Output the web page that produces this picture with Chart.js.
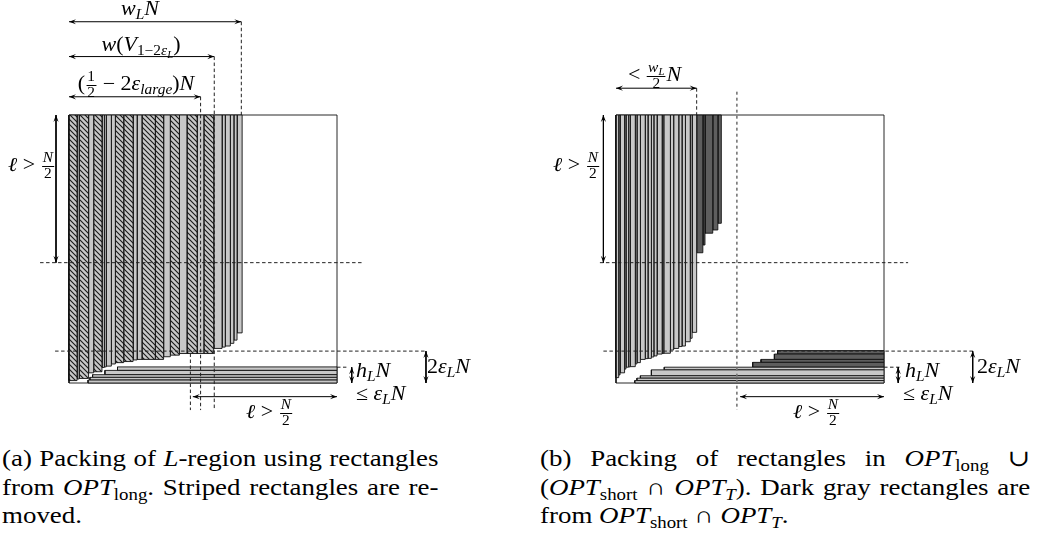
<!DOCTYPE html>
<html><head><meta charset="utf-8">
<script src="https://cdn.jsdelivr.net/npm/chart.js@4.4.1/dist/chart.umd.min.js"></script>
<style>
html,body{margin:0;padding:0;background:#fff;}
#wrap{position:relative;width:1044px;height:544px;overflow:hidden;font-family:"Liberation Serif","DejaVu Serif",serif;color:#000;}
canvas{position:absolute;top:0;}
#ca{left:0;} #cb{left:520px;}
.lbl{position:absolute;font-size:20px;line-height:1;white-space:nowrap;font-family:"Liberation Serif","DejaVu Serif",serif;transform:scaleX(1.1);transform-origin:left center;}
.c{transform:translateX(-50%) scaleX(1.1);transform-origin:center center;}
sub{font-size:0.7em;vertical-align:-0.3em;line-height:0;}
.frac{display:inline-flex;flex-direction:column;align-items:center;vertical-align:middle;font-size:0.7em;line-height:1.05;margin:0 1px;}
.frac .n{border-bottom:1px solid #000;padding:0 1px;}
.cap{position:absolute;font-size:23px;line-height:28.5px;font-family:"Liberation Serif","DejaVu Serif",serif;transform:scaleX(1.17);transform-origin:left top;}
.cap .j{text-align:justify;text-align-last:justify;}
</style></head>
<body>
<div id="wrap">
<canvas id="ca" width="520" height="430"></canvas>
<canvas id="cb" width="524" height="430"></canvas>

<!-- panel (a) labels -->
<div class="lbl c" style="left:140px;top:-2px"><i>w<sub>L</sub>N</i></div>
<div class="lbl c" style="left:141px;top:34px"><i>w</i>(<i>V</i><sub>1−2<i>ε<sub>L</sub></i></sub>)</div>
<div class="lbl c" style="left:136px;top:70px">(<span class="frac"><span class="n">1</span><span>2</span></span> − 2<i>ε<sub>large</sub></i>)<i>N</i></div>
<div class="lbl" style="left:8px;top:151px"><i>ℓ</i> &gt; <span class="frac"><span class="n"><i>N</i></span><span>2</span></span></div>
<div class="lbl" style="left:246px;top:398px"><i>ℓ</i> &gt; <span class="frac"><span class="n"><i>N</i></span><span>2</span></span></div>
<div class="lbl" style="left:356px;top:360px"><i>h<sub>L</sub>N</i></div>
<div class="lbl" style="left:356px;top:383px">≤ <i>ε<sub>L</sub>N</i></div>
<div class="lbl" style="left:427px;top:356px">2<i>ε<sub>L</sub>N</i></div>

<!-- panel (b) labels -->
<div class="lbl" style="left:628px;top:61px">&lt; <span class="frac"><span class="n"><i>w<sub>L</sub></i></span><span>2</span></span><i>N</i></div>
<div class="lbl" style="left:553px;top:151px"><i>ℓ</i> &gt; <span class="frac"><span class="n"><i>N</i></span><span>2</span></span></div>
<div class="lbl" style="left:793px;top:398px"><i>ℓ</i> &gt; <span class="frac"><span class="n"><i>N</i></span><span>2</span></span></div>
<div class="lbl" style="left:905px;top:360px"><i>h<sub>L</sub>N</i></div>
<div class="lbl" style="left:903px;top:383px">≤ <i>ε<sub>L</sub>N</i></div>
<div class="lbl" style="left:977px;top:356px">2<i>ε<sub>L</sub>N</i></div>

<div class="cap" style="left:2px;top:445px;width:373px">
<div class="j">(a) Packing of <i>L</i>-region using rectangles</div>
<div class="j">from <i>OPT</i><sub>long</sub>. Striped rectangles are re-</div>
<div>moved.</div>
</div>
<div class="cap" style="left:540px;top:445px;width:419px">
<div class="j">(b) Packing of rectangles in <i>OPT</i><sub>long</sub> ∪</div>
<div class="j">(<i>OPT</i><sub>short</sub> ∩ <i>OPT<sub>T</sub></i>). Dark gray rectangles are</div>
<div>from <i>OPT</i><sub>short</sub> ∩ <i>OPT<sub>T</sub></i>.</div>
</div>
</div>

<script>
// ---------- data (all in units of N; square is [0,1]x[0,1]) ----------
// panel (a): vertical rectangles hanging from the top edge
const aStripEdges = [0,0.030,0.038,0.073,0.092,0.123,0.132,0.139,0.158,0.173,0.204,0.239,0.254,0.272,0.322,0.353,0.378,0.412,0.440,0.478,0.503,0.540,0.571,0.583,0.602,0.615,0.627,0.646];
const aStripBottoms = [0.009,0.015,0.017,0.038,0.042,0.058,0.060,0.063,0.071,0.076,0.080,0.086,0.088,0.088,0.088,0.098,0.104,0.110,0.110,0.110,0.110,0.129,0.134,0.138,0.148,0.160,0.187];
const aStripStriped = [1,0,1,0,1,0,0,0,0,1,1,0,0,1,1,0,1,0,1,0,1,0,0,0,0,0,0];
// panel (a): horizontal rectangles ending at the right edge (bottom-up)
const aBarEdges = [0,0.011,0.021,0.031,0.047,0.060];
const aBarStarts = [0.071,0.078,0.088,0.134,0.181];
// panel (a) measures
const aWL = 0.643, aWV = 0.542, aHalfLarge = 0.491, aCut = 0.453, aEllStart = 0.462;

// panel (b): light vertical rectangles
const bStripEdges = [0,0.010,0.015,0.032,0.037,0.047,0.053,0.072,0.078,0.091,0.109,0.119,0.132,0.141,0.153,0.172,0.178,0.203,0.215,0.234,0.246,0.259,0.277,0.284,0.301];
const bStripBottoms = [0.020,0.030,0.038,0.052,0.059,0.060,0.061,0.071,0.076,0.088,0.091,0.092,0.097,0.101,0.108,0.110,0.111,0.123,0.129,0.136,0.138,0.154,0.167,0.189];
// panel (b): dark vertical rectangles (OPT_short ∩ OPT_T)
const bDarkEdges = [0.301,0.324,0.332,0.361,0.380,0.393];
const bDarkBottoms = [0.486,0.515,0.559,0.571,0.596];
// panel (b): horizontal rectangles (bottom-up)
const bBarEdges = [0,0.009,0.018,0.027,0.049,0.059,0.077,0.088,0.108,0.121];
const bBarStarts = [0.070,0.078,0.091,0.132,0.180,0.510,0.541,0.591,0.603];
const bBarDark = [0,0,0,0,0,1,1,1,1];
// panel (b) measures
const bHalfWL = 0.301, bMid = 0.451, bEllStart = 0.463;

// shared horizontal levels
const yHalf = 0.449, yTwoEps = 0.119, yHL = 0.059;

// ---------- styling ----------
const LIGHT = '#c8c8c8', DARK = '#5e5e5e';
const Y_MIN = -47/268, Y_MAX = 383/268;

function hatch(){
  const c = document.createElement('canvas'); c.width = 5; c.height = 5;
  const g = c.getContext('2d');
  g.fillStyle = LIGHT; g.fillRect(0,0,5,5);
  g.strokeStyle = '#1a1a1a'; g.lineWidth = 1.1;
  g.beginPath();
  g.moveTo(-1,-1); g.lineTo(6,6);
  g.moveTo(-1,4); g.lineTo(1,6);
  g.moveTo(4,-1); g.lineTo(6,1);
  g.stroke();
  return g.createPattern(c,'repeat');
}
const HATCH = hatch();

function rect(l,r,b,t,color,order){
  return {data:[{x:l,y:b},{x:r,y:b},{x:r,y:t},{x:l,y:t},{x:l,y:b}],
    borderColor:'#111',borderWidth:0.9,backgroundColor:color,fill:'shape',
    pointRadius:0,tension:0,order:order};
}
function seg(x1,y1,x2,y2,extra){
  return Object.assign({data:[{x:x1,y:y1},{x:x2,y:y2}],borderColor:'#222',borderWidth:1,
    borderDash:[3.5,2.5],fill:false,pointRadius:0,tension:0,order:3},extra||{});
}
function arrow(x1,y1,x2,y2){
  return seg(x1,y1,x2,y2,{borderDash:[],borderColor:'#000',borderWidth:1,arrowHeads:['start','end'],order:2});
}

const arrowPlugin = {
  id:'arrowheads',
  afterDatasetsDraw(chart){
    const ctx = chart.ctx;
    chart.data.datasets.forEach((ds,i)=>{
      if(!ds.arrowHeads) return;
      const pts = chart.getDatasetMeta(i).data;
      const head = (tip,from)=>{
        const a = Math.atan2(tip.y-from.y, tip.x-from.x);
        const L = 7, W = 2.6;
        ctx.save(); ctx.translate(tip.x,tip.y); ctx.rotate(a);
        ctx.beginPath(); ctx.moveTo(0,0); ctx.lineTo(-L,-W); ctx.lineTo(-L*0.6,0); ctx.lineTo(-L,W); ctx.closePath();
        ctx.fillStyle = '#000'; ctx.fill(); ctx.restore();
      };
      const n = pts.length;
      if(ds.arrowHeads.includes('end')) head(pts[n-1],pts[n-2]);
      if(ds.arrowHeads.includes('start')) head(pts[0],pts[1]);
    });
  }
};

function makeChart(id,xmin,xmax,datasets){
  return new Chart(document.getElementById(id),{
    type:'line',
    data:{datasets:datasets},
    options:{responsive:false,animation:false,events:[],
      layout:{padding:0},
      plugins:{legend:{display:false},tooltip:{enabled:false}},
      scales:{x:{type:'linear',min:xmin,max:xmax,display:false},
              y:{type:'linear',min:Y_MIN,max:Y_MAX,display:false}}},
    plugins:[arrowPlugin]
  });
}

// ---------- panel (a) ----------
const dsA = [];
dsA.push(rect(0,1,0,1,'rgba(0,0,0,0)',10));
for(let i=0;i<aStripBottoms.length;i++){
  dsA.push(rect(aStripEdges[i],aStripEdges[i+1],aStripBottoms[i],1,aStripStriped[i]?HATCH:LIGHT,8));
}
for(let i=0;i<aBarStarts.length;i++){
  dsA.push(rect(aBarStarts[i],1,aBarEdges[i],aBarEdges[i+1],LIGHT,7));
}
dsA.push(seg(aCut,aStripBottoms[aStripBottoms.length-7],aCut,-0.101));
dsA.push(seg(aHalfLarge,1.068,aHalfLarge,-0.101));
dsA.push(seg(aWV,1.218,aWV,-0.101));
dsA.push(seg(aWL,1.348,aWL,1));
dsA.push(seg(-0.108,yHalf,1.097,yHalf));
dsA.push(seg(-0.052,yTwoEps,1.336,yTwoEps));
dsA.push(seg(1,yHL,1.035,yHL));
dsA.push(arrow(0,1.348,aWL,1.348));
dsA.push(arrow(0,1.218,aWV,1.218));
dsA.push(arrow(0,1.068,aHalfLarge,1.068));
dsA.push(arrow(-0.0485,1,-0.0485,yHalf));
dsA.push(arrow(aEllStart,-0.051,1,-0.051));
dsA.push(arrow(1.055,yHL,1.055,0));
dsA.push(arrow(1.332,yTwoEps,1.332,0));
makeChart('ca',-69/268,451/268,dsA);

// ---------- panel (b) ----------
const dsB = [];
dsB.push(rect(0,1,0,1,'rgba(0,0,0,0)',10));
for(let i=0;i<bStripBottoms.length;i++){
  dsB.push(rect(bStripEdges[i],bStripEdges[i+1],bStripBottoms[i],1,LIGHT,8));
}
for(let i=0;i<bDarkBottoms.length;i++){
  dsB.push(rect(bDarkEdges[i],bDarkEdges[i+1],bDarkBottoms[i],1,DARK,8));
}
for(let i=0;i<bBarStarts.length;i++){
  dsB.push(rect(bBarStarts[i],1,bBarEdges[i],bBarEdges[i+1],bBarDark[i]?DARK:LIGHT,7));
}
dsB.push(seg(bMid,1.087,bMid,-0.101,{borderColor:'#777',borderWidth:1.6,borderDash:[3,3]}));
dsB.push(seg(bHalfWL,1.100,bHalfWL,1));
dsB.push(seg(-0.060,yHalf,1.090,yHalf));
dsB.push(seg(-0.047,yTwoEps,1.332,yTwoEps));
dsB.push(seg(1,yHL,1.067,yHL));
dsB.push(arrow(0,1.100,bHalfWL,1.100));
dsB.push(arrow(-0.047,1,-0.047,yHalf));
dsB.push(arrow(bEllStart,-0.051,1,-0.051));
dsB.push(arrow(1.053,yHL,1.053,0));
dsB.push(arrow(1.331,yTwoEps,1.331,0));
makeChart('cb',-96/268,428/268,dsB);
</script>
</body></html>
